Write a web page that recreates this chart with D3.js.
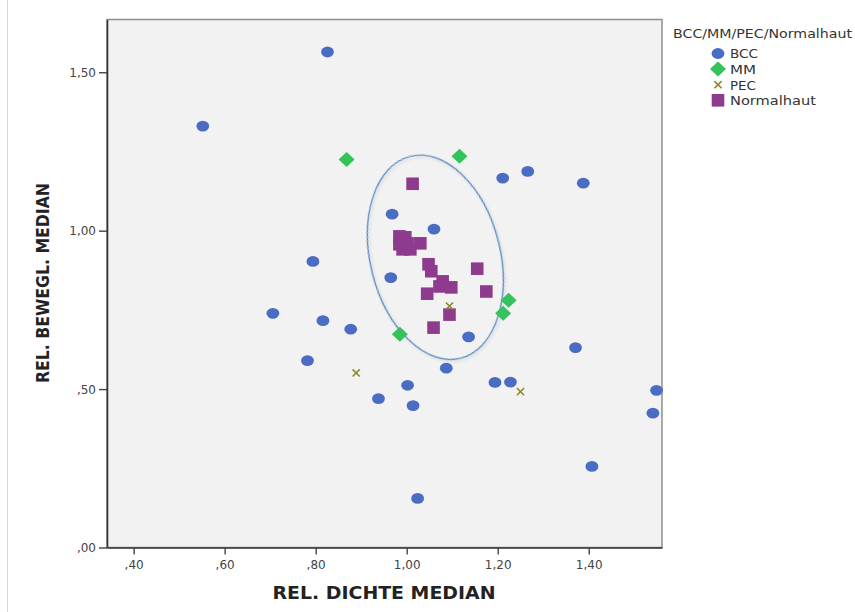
<!DOCTYPE html>
<html>
<head>
<meta charset="utf-8">
<script src="https://cdn.jsdelivr.net/npm/d3@7"></script>
<style>
  html, body { margin: 0; padding: 0; background: #ffffff; }
  svg { display: block; }
  text { font-family: "DejaVu Sans", sans-serif; }
</style>
</head>
<body>
<svg id="chart" width="855" height="612"></svg>
<script>
// ---- data: relative density median (x) vs. relative motility median (y) ----
const categories = ["BCC", "MM", "PEC", "Normalhaut"];
const legendTitle = "BCC/MM/PEC/Normalhaut";

const bccX = [0.826, 0.552, 0.794, 0.706, 0.816, 0.877, 0.782, 0.938, 1.136, 1.371,
              1.087, 1.002, 1.194, 1.228, 1.549, 1.541, 1.014, 1.407, 1.024, 1.211,
              1.266, 1.388, 0.968, 1.060, 0.965];
const bccY = [1.564, 1.330, 0.903, 0.739, 0.716, 0.689, 0.590, 0.470, 0.665, 0.631,
              0.566, 0.512, 0.521, 0.522, 0.496, 0.424, 0.448, 0.256, 0.155, 1.166,
              1.187, 1.150, 1.052, 1.005, 0.852];

const mmX = [0.868, 1.116, 0.985, 1.224, 1.212];
const mmY = [1.225, 1.235, 0.673, 0.780, 0.739];

const pecX = [0.889, 1.094, 1.250];
const pecY = [0.551, 0.762, 0.492];

const normX = [0.984, 0.997, 0.984, 1.002, 0.991, 1.008, 1.030,
               1.048, 1.054, 1.079, 1.072, 1.098,
               1.013, 1.155, 1.175, 1.045, 1.094, 1.059];
const normY = [0.982, 0.979, 0.957, 0.960, 0.941, 0.941, 0.960,
               0.894, 0.872, 0.840, 0.824, 0.821,
               1.148, 0.880, 0.808, 0.801, 0.735, 0.694];

const xTickValues = [0.4, 0.6, 0.8, 1.0, 1.2, 1.4];
const yTickValues = [0.0, 0.5, 1.0, 1.5];
const xTitle = "REL. DICHTE MEDIAN";
const yTitle = "REL. BEWEGL. MEDIAN";

// highlighted cluster of normal skin samples (centre in data units)
const clusterCentre = [1.063, 0.916];

// ---- layout ----
const svg = d3.select("#chart");
const plot = { left: 107, top: 19.5, right: 662, bottom: 547.5 };

const x = d3.scaleLinear().domain([0.3415, 1.561]).range([plot.left, plot.right]);
const y = d3.scaleLinear().domain([0, 1.6665]).range([plot.bottom, plot.top]);

// German style: decimal comma, no leading zero
const fmt = v => d3.format(".2f")(v).replace(".", ",").replace(/^0/, "");

const colors = { BCC: "#4a6dc3", MM: "#34c25a", PEC: "#8c8a2a", Normalhaut: "#8e3b8e" };

// faint page edge on the left
svg.append("line").attr("x1", 7.5).attr("x2", 7.5).attr("y1", 0).attr("y2", 612)
  .attr("stroke", "#d6d6d6").attr("stroke-width", 1);

// plot background and frame
svg.append("rect")
  .attr("x", plot.left).attr("y", plot.top)
  .attr("width", plot.right - plot.left).attr("height", plot.bottom - plot.top)
  .attr("fill", "#f2f2f2").attr("stroke", "#8f8f8f").attr("stroke-width", 1.5);

// axes
const xAxis = d3.axisBottom(x).tickValues(xTickValues).tickFormat(fmt).tickSize(7).tickSizeOuter(0);
const yAxis = d3.axisLeft(y).tickValues(yTickValues).tickFormat(fmt).tickSize(8).tickSizeOuter(0);

const gx = svg.append("g").attr("transform", `translate(0,${plot.bottom})`).call(xAxis);
const gy = svg.append("g").attr("transform", `translate(${plot.left},0)`).call(yAxis);

[gx, gy].forEach(g => {
  g.select(".domain").attr("stroke", "#333").attr("stroke-width", 1.6);
  g.selectAll(".tick line").attr("stroke", "#444").attr("stroke-width", 1.4);
  g.selectAll(".tick text").attr("fill", "#444").attr("font-size", 12)
    .attr("font-family", "DejaVu Sans, sans-serif");
});
gx.selectAll(".tick text").attr("dy", null).attr("y", 21.5);
gy.selectAll(".tick text").attr("x", -11).attr("dy", "0.36em");

// axis titles
svg.append("text")
  .attr("x", 384).attr("y", 598.5).attr("text-anchor", "middle")
  .attr("font-size", 17.5).attr("font-weight", "bold").attr("fill", "#222")
  .attr("textLength", 223).attr("lengthAdjust", "spacingAndGlyphs")
  .text(xTitle);

svg.append("text")
  .attr("transform", "translate(49,283) rotate(-90)")
  .attr("text-anchor", "middle")
  .attr("font-size", 17.5).attr("font-weight", "bold").attr("fill", "#222")
  .attr("textLength", 200).attr("lengthAdjust", "spacingAndGlyphs")
  .text(yTitle);

// soft shadow for the cluster outline
const defs = svg.append("defs");
const flt = defs.append("filter").attr("id", "soft").attr("x", "-20%").attr("y", "-20%")
  .attr("width", "140%").attr("height", "140%");
flt.append("feDropShadow").attr("dx", 1).attr("dy", 2).attr("stdDeviation", 1.5)
  .attr("flood-color", "#000").attr("flood-opacity", 0.16);

svg.append("ellipse")
  .attr("cx", 0).attr("cy", 0).attr("rx", 65).attr("ry", 104)
  .attr("transform", `translate(${x(clusterCentre[0])},${y(clusterCentre[1])}) rotate(-14)`)
  .attr("fill", "none").attr("stroke", "#4a7fc0").attr("stroke-width", 1.2)
  .attr("filter", "url(#soft)");

// marker shapes
const diamondPath = "M0,-7.5L8,0L0,7.5L-8,0Z";
const crossPath = "M-3.6,-3.6L3.6,3.6M-3.6,3.6L3.6,-3.6";

function drawMarker(g, kind) {
  if (kind === "BCC") {
    g.append("ellipse").attr("rx", 6.4).attr("ry", 5.4).attr("fill", colors.BCC);
  } else if (kind === "MM") {
    g.append("path").attr("d", diamondPath).attr("fill", colors.MM);
  } else if (kind === "PEC") {
    g.append("path").attr("d", crossPath).attr("stroke", colors.PEC)
      .attr("stroke-width", 1.6).attr("fill", "none");
  } else {
    g.append("rect").attr("x", -6.3).attr("y", -6.3).attr("width", 12.6).attr("height", 12.6)
      .attr("fill", colors.Normalhaut);
  }
}

const seriesData = [
  { kind: "BCC", xs: bccX, ys: bccY },
  { kind: "Normalhaut", xs: normX, ys: normY },
  { kind: "MM", xs: mmX, ys: mmY },
  { kind: "PEC", xs: pecX, ys: pecY }
];

const marks = svg.append("g");
seriesData.forEach(s => {
  const pts = s.xs.map((v, i) => [v, s.ys[i]]);
  marks.append("g").selectAll("g").data(pts).join("g")
    .attr("transform", d => `translate(${x(d[0])},${y(d[1])})`)
    .each(function () { drawMarker(d3.select(this), s.kind); });
});

// legend
const legend = svg.append("g");
legend.append("text").attr("x", 673).attr("y", 38)
  .attr("font-size", 12).attr("fill", "#333")
  .attr("textLength", 179).attr("lengthAdjust", "spacingAndGlyphs")
  .text(legendTitle);

const legendLengths = { BCC: 28, MM: 26, PEC: 26, Normalhaut: 86 };
categories.forEach((c, i) => {
  const cy = 53.5 + i * 15.6;
  const g = legend.append("g").attr("transform", `translate(718,${cy})`);
  drawMarker(g, c);
  legend.append("text").attr("x", 730).attr("y", cy + 4.8)
    .attr("font-size", 13).attr("fill", "#333")
    .attr("textLength", legendLengths[c]).attr("lengthAdjust", "spacingAndGlyphs")
    .text(c);
});
</script>
</body>
</html>
